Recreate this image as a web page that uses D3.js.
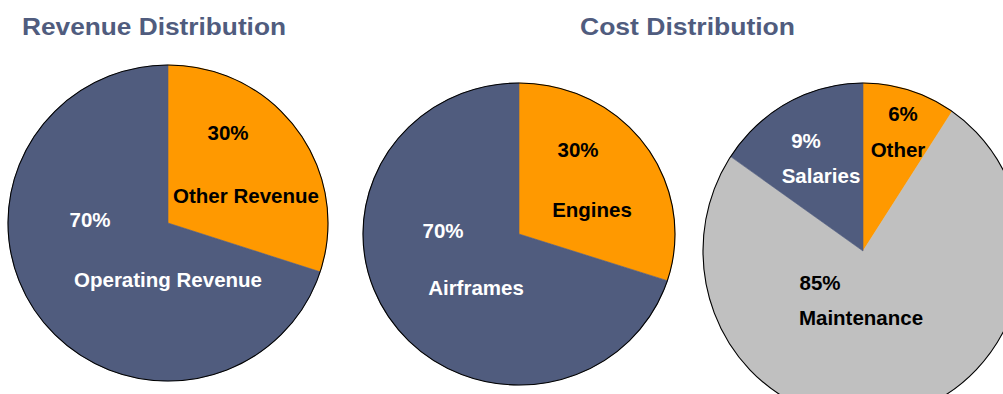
<!DOCTYPE html>
<html>
<head>
<meta charset="utf-8">
<script src="https://cdn.jsdelivr.net/npm/d3@7"></script>
<style>
  html, body { margin: 0; padding: 0; background: #ffffff; }
  svg { display: block; }
  text { font-family: "Liberation Sans", Arial, sans-serif; font-weight: bold; }
</style>
</head>
<body>
<svg id="chart" width="1003" height="394"></svg>
<script>
// ---- data ----
const titles = ["Revenue Distribution", "Cost Distribution"];

const revenueCategories = ["Other Revenue", "Operating Revenue"];
const revenueValues = [30, 70];

const airframeCategories = ["Engines", "Airframes"];
const airframeValues = [30, 70];

const costCategories = ["Other", "Maintenance", "Salaries"];
const costValues = [6, 85, 9];              // printed percentages
const costSliceShares = [9.4, 75.1, 15.5];  // slice sizes as drawn in the picture

// ---- layout / style ----
const W = 1003, H = 394;
const svg = d3.select("#chart");
const colors = { blue: "#505C7E", orange: "#FF9900", gray: "#C0C0C0" };

// titles
const titleLayout = [
  { x: 22, y: 35, len: 264 },
  { x: 580, y: 35, len: 215 }
];
svg.selectAll("text.title").data(titles).join("text")
  .attr("class", "title")
  .attr("x", (d, i) => titleLayout[i].x)
  .attr("y", (d, i) => titleLayout[i].y)
  .attr("font-size", 23.5)
  .attr("fill", colors.blue)
  .attr("textLength", (d, i) => titleLayout[i].len)
  .attr("lengthAdjust", "spacingAndGlyphs")
  .text(d => d);

const pieGen = d3.pie().sort(null).value(d => d.v);
const unitArc = d3.arc().innerRadius(0).outerRadius(1);

function drawPie(cfg) {
  const g = svg.append("g").attr("transform", `translate(${cfg.cx},${cfg.cy})`);
  const items = cfg.cats.map((c, i) => ({ c, v: cfg.shares[i], fill: cfg.fills[i] }));
  const arcs = pieGen(items);
  const scaled = g.append("g").attr("transform", `scale(${cfg.rx},${cfg.ry})`);
  scaled.selectAll("path").data(arcs).join("path")
    .attr("d", unitArc)
    .attr("fill", d => d.data.fill)
    .attr("stroke", d => d.data.fill)
    .attr("stroke-width", 0.6)
    .attr("vector-effect", "non-scaling-stroke");
  g.append("ellipse")
    .attr("rx", cfg.rx).attr("ry", cfg.ry)
    .attr("fill", "none").attr("stroke", "#000").attr("stroke-width", 1.1);
  // labels: percentage + category
  cfg.labels.forEach((L, i) => {
    g.append("text")
      .attr("x", L.px - cfg.cx).attr("y", L.py - cfg.cy)
      .attr("text-anchor", "middle").attr("font-size", 20.5)
      .attr("fill", L.color)
      .text(cfg.pcts[i] + "%");
    g.append("text")
      .attr("x", L.cx - cfg.cx).attr("y", L.cy - cfg.cy)
      .attr("text-anchor", "middle").attr("font-size", 20.5)
      .attr("fill", L.color)
      .text(cfg.cats[i]);
  });
}

drawPie({
  cx: 168, cy: 223, rx: 160, ry: 158,
  cats: revenueCategories, shares: revenueValues, pcts: revenueValues,
  fills: [colors.orange, colors.blue],
  labels: [
    { px: 228, py: 140, cx: 246, cy: 203, color: "#000" },
    { px: 90, py: 227, cx: 168, cy: 287, color: "#fff" }
  ]
});

drawPie({
  cx: 519, cy: 234, rx: 156, ry: 151,
  cats: airframeCategories, shares: airframeValues, pcts: airframeValues,
  fills: [colors.orange, colors.blue],
  labels: [
    { px: 578, py: 157, cx: 592, cy: 217, color: "#000" },
    { px: 443, py: 238, cx: 476, cy: 295, color: "#fff" }
  ]
});

drawPie({
  cx: 863, cy: 251, rx: 160, ry: 168,
  cats: costCategories, shares: costSliceShares, pcts: costValues,
  fills: [colors.orange, colors.gray, colors.blue],
  labels: [
    { px: 903, py: 121, cx: 898, cy: 157, color: "#000" },
    { px: 820, py: 290, cx: 861, cy: 325, color: "#000" },
    { px: 806, py: 148, cx: 821, cy: 183, color: "#fff" }
  ]
});
</script>
</body>
</html>
